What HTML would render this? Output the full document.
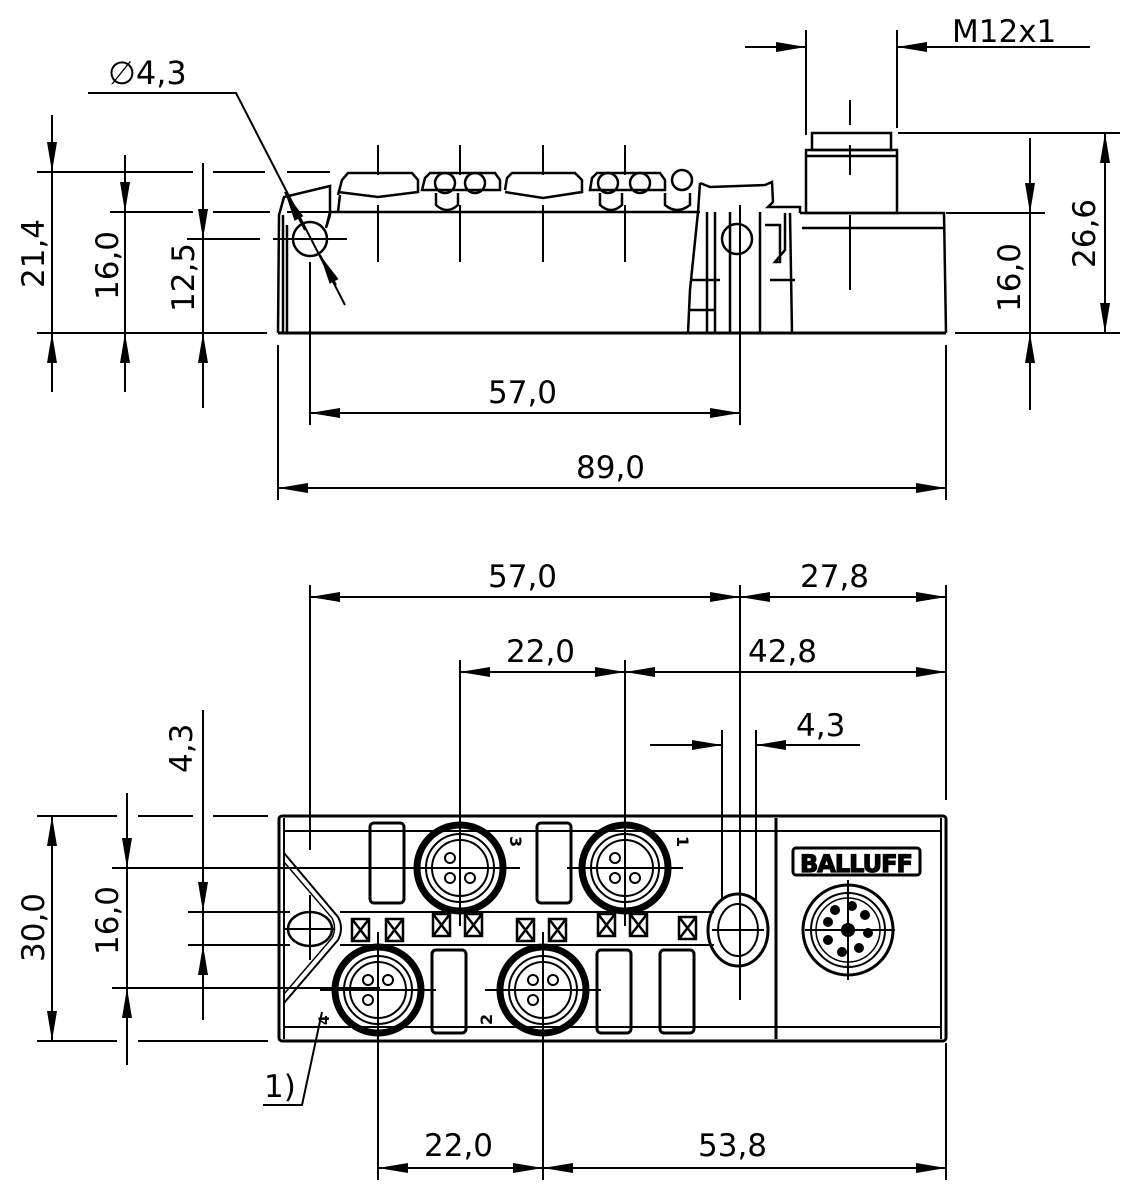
<!DOCTYPE html>
<html><head><meta charset="utf-8"><style>
html,body{margin:0;padding:0;background:#fff;}
svg{display:block;}
text{font-family:"DejaVu Sans","Liberation Sans",sans-serif;font-size:31px;fill:#000;}
</style></head><body>
<svg width="1136" height="1200" viewBox="0 0 1136 1200" xmlns="http://www.w3.org/2000/svg">
<defs>
<marker id="a" viewBox="0 0 30 10" refX="30" refY="5" markerUnits="userSpaceOnUse" markerWidth="30" markerHeight="10" orient="auto-start-reverse">
<path d="M0,0 L30,5 L0,10 z" fill="#000"/></marker>
</defs>
<g stroke="#000" stroke-width="2" fill="none">
<polyline points="88,93 236,93 345,305"/>
<line x1="305" y1="230" x2="285" y2="192" marker-end="url(#a)"/>
<line x1="320" y1="255" x2="336" y2="285" marker-start="url(#a)"/>
<path d="M37,172 H193 M213,172 H265 M287,172 H330"/>
<path d="M110,212 H193 M213,212 H270 M287,212 H330"/>
<path d="M187,239 H260 M273,239 H347"/>
<path d="M37,333 H267"/>
<line x1="52" y1="115" x2="52" y2="392"/>
<line x1="52" y1="140" x2="52" y2="172" marker-end="url(#a)"/>
<line x1="52" y1="365" x2="52" y2="333" marker-end="url(#a)"/>
<line x1="125" y1="155" x2="125" y2="392"/>
<line x1="125" y1="180" x2="125" y2="212" marker-end="url(#a)"/>
<line x1="125" y1="365" x2="125" y2="333" marker-end="url(#a)"/>
<line x1="203" y1="163" x2="203" y2="408"/>
<line x1="203" y1="207" x2="203" y2="239" marker-end="url(#a)"/>
<line x1="203" y1="365" x2="203" y2="333" marker-end="url(#a)"/>
<line x1="898" y1="133" x2="1120" y2="133"/>
<line x1="955" y1="333" x2="1120" y2="333"/>
<line x1="946" y1="213" x2="1045" y2="213"/>
<line x1="1105" y1="133" x2="1105" y2="333" marker-start="url(#a)" marker-end="url(#a)"/>
<line x1="1030" y1="138" x2="1030" y2="410"/>
<line x1="1030" y1="181" x2="1030" y2="213" marker-end="url(#a)"/>
<line x1="1030" y1="365" x2="1030" y2="333" marker-end="url(#a)"/>
<line x1="806" y1="30" x2="806" y2="135"/>
<line x1="897" y1="30" x2="897" y2="128"/>
<line x1="745" y1="47" x2="806" y2="47" marker-end="url(#a)"/>
<line x1="1090" y1="47" x2="897" y2="47" marker-end="url(#a)"/>
<line x1="310" y1="262" x2="310" y2="425"/>
<line x1="740" y1="205" x2="740" y2="425"/>
<line x1="310" y1="413" x2="740" y2="413" marker-start="url(#a)" marker-end="url(#a)"/>
<line x1="278" y1="345" x2="278" y2="500"/>
<line x1="946" y1="345" x2="946" y2="500"/>
<line x1="278" y1="488" x2="946" y2="488" marker-start="url(#a)" marker-end="url(#a)"/>
<path d="M378,145 V175 M378,205 V262 M460,145 V175 M460,205 V262 M543,145 V175 M543,205 V262 M625,145 V175 M625,205 V262"/>
<path d="M850,100 V125 M850,145 V175 M850,215 V290"/>
<g stroke-width="2.5">
<path d="M278,333 L279,215 L284,197 L330,186 L330,215 L326,228 L330,212 L700,212"/>
<line x1="278" y1="333" x2="946" y2="333" stroke-width="3"/>
<path d="M338,195 L342,180 L348,173 L412,173 L418,180 L418,192 L378,197 L338,192"/>
<path d="M340,195 L338,212"/>
<path d="M422,190 L425,178 L430,173 L495,173 L500,180 L500,190 Z"/>
<circle cx="445" cy="183" r="10"/><circle cx="475" cy="183" r="10"/>
<path d="M436,193 V205 Q447,215 458,205 V193"/>
<path d="M505,190 L507,178 L512,173 L575,173 L582,180 L582,192 L543,198 L505,192"/>
<path d="M590,190 L592,178 L597,173 L660,173 L665,180 L665,190 Z"/>
<circle cx="608" cy="183" r="10"/><circle cx="640" cy="183" r="10"/>
<path d="M600,193 V205 Q611,215 622,205 V193"/>
<circle cx="682" cy="180" r="10"/>
<path d="M665,193 V205 Q677,215 690,205 V193"/>
<path d="M700,183 L710,187 L765,185 L772,182 L773,202 L768,207 L800,207 L800,213"/>
<path d="M700,183 L698,212 L690,290 L688,333"/>
<path d="M707,212 V333 M715,212 V333 M730,212 V333 M760,212 V333"/>
<path d="M765,225 H780 V262 L775,262 L785,250 V213"/>
<path d="M790,213 L792,333"/>
<path d="M690,280 H720 M690,310 H715 M770,280 H795"/>
<circle cx="737" cy="239" r="15"/>
<circle cx="310" cy="239" r="17"/>
<path d="M283,215 V333 M287,225 L287,333"/>
<path d="M800,213 H944 L946,333"/>
<line x1="802" y1="228" x2="944" y2="228"/>
<rect x="806" y="150" width="91" height="63"/>
<rect x="812" y="133" width="79" height="17"/>
<line x1="806" y1="156" x2="897" y2="156"/>
</g>
<line x1="310" y1="585" x2="310" y2="850"/>
<line x1="740" y1="585" x2="740" y2="1000"/>
<line x1="946" y1="585" x2="946" y2="800"/>
<line x1="310" y1="597" x2="740" y2="597" marker-start="url(#a)" marker-end="url(#a)"/>
<line x1="740" y1="597" x2="946" y2="597" marker-start="url(#a)" marker-end="url(#a)"/>
<line x1="460" y1="660" x2="460" y2="900"/>
<line x1="625" y1="660" x2="625" y2="900"/>
<line x1="946" y1="660" x2="946" y2="680"/>
<line x1="460" y1="672" x2="625" y2="672" marker-start="url(#a)" marker-end="url(#a)"/>
<line x1="625" y1="672" x2="946" y2="672" marker-start="url(#a)" marker-end="url(#a)"/>
<line x1="722" y1="730" x2="722" y2="900"/>
<line x1="756" y1="730" x2="756" y2="900"/>
<line x1="650" y1="745" x2="722" y2="745" marker-end="url(#a)"/>
<line x1="860" y1="745" x2="756" y2="745" marker-end="url(#a)"/>
<path d="M37,816 H117 M138,816 H193 M213,816 H268"/>
<path d="M37,1041 H117 M138,1041 H268"/>
<line x1="52" y1="816" x2="52" y2="1041" marker-start="url(#a)" marker-end="url(#a)"/>
<line x1="112" y1="868" x2="520" y2="868"/>
<line x1="112" y1="988" x2="380" y2="988"/>
<line x1="127" y1="793" x2="127" y2="1065"/>
<line x1="127" y1="836" x2="127" y2="868" marker-end="url(#a)"/>
<line x1="127" y1="1020" x2="127" y2="988" marker-end="url(#a)"/>
<line x1="188" y1="912" x2="290" y2="912"/>
<line x1="188" y1="945" x2="290" y2="945"/>
<line x1="203" y1="710" x2="203" y2="1020"/>
<line x1="203" y1="880" x2="203" y2="912" marker-end="url(#a)"/>
<line x1="203" y1="977" x2="203" y2="945" marker-end="url(#a)"/>
<line x1="378" y1="1000" x2="378" y2="1180"/>
<line x1="543" y1="990" x2="543" y2="1180"/>
<line x1="946" y1="1043" x2="946" y2="1180"/>
<line x1="378" y1="1168" x2="543" y2="1168" marker-start="url(#a)" marker-end="url(#a)"/>
<line x1="543" y1="1168" x2="946" y2="1168" marker-start="url(#a)" marker-end="url(#a)"/>
<polyline points="263,1105 302,1105 322,1012"/>
<g stroke-width="3">
<rect x="279" y="816" width="667" height="225" rx="3"/>
</g>
<line x1="284" y1="831" x2="941" y2="831"/>
<line x1="284" y1="1027" x2="941" y2="1027"/>
<line x1="284" y1="818" x2="284" y2="1039"/>
<line x1="776" y1="818" x2="776" y2="1039" stroke-width="3"/>
<line x1="941" y1="818" x2="941" y2="1039"/>
<path d="M284,853 L338,917 Q344,928 338,940 L284,1003" stroke-width="2"/>
<path d="M284,862 L332,918 Q337,928 332,938 L284,994" stroke-width="1.5"/>
<path d="M340,912 H714 M340,945 H714" stroke-width="2"/>
<ellipse cx="310" cy="929" rx="22" ry="17" stroke-width="2.5"/>
<path d="M285,929 H335 M310,895 V960" />
<ellipse cx="738" cy="930" rx="30" ry="36" stroke-width="3"/>
<ellipse cx="738" cy="930" rx="20" ry="26" stroke-width="2"/>
<path d="M712,930 H764"/>
<g stroke-width="3">
<rect x="370" y="823" width="34" height="80" rx="4"/>
<rect x="537" y="823" width="34" height="80" rx="4"/>
<rect x="432" y="950" width="34" height="83" rx="4"/>
<rect x="597" y="950" width="34" height="83" rx="4"/>
<rect x="660" y="950" width="34" height="83" rx="4"/>
</g>
<g>
<g transform="translate(460,868)">
<circle r="43" stroke-width="7"/><circle r="34" stroke-width="2"/><circle r="28" stroke-width="2"/>
<circle cx="-10" cy="-10" r="5"/><circle cx="-10" cy="10" r="5"/><circle cx="10" cy="10" r="5"/><path d="M-58,0 H58 M0,-58 V58"/>
</g>
<g transform="translate(625,868)">
<circle r="43" stroke-width="7"/><circle r="34" stroke-width="2"/><circle r="28" stroke-width="2"/>
<circle cx="-10" cy="-10" r="5"/><circle cx="-10" cy="10" r="5"/><circle cx="10" cy="10" r="5"/><path d="M-58,0 H58 M0,-58 V58"/>
</g>
<g transform="translate(378,990)">
<circle r="43" stroke-width="7"/><circle r="34" stroke-width="2"/><circle r="28" stroke-width="2"/>
<circle cx="-10" cy="-10" r="5"/><circle cx="10" cy="-10" r="5"/><circle cx="-10" cy="10" r="5"/><path d="M-58,0 H58 M0,-58 V58"/>
</g>
<g transform="translate(543,990)">
<circle r="43" stroke-width="7"/><circle r="34" stroke-width="2"/><circle r="28" stroke-width="2"/>
<circle cx="-10" cy="-10" r="5"/><circle cx="10" cy="-10" r="5"/><circle cx="-10" cy="10" r="5"/><path d="M-58,0 H58 M0,-58 V58"/>
</g>
</g>
<g stroke-width="2.5">
<path d="M352,919 h17 v22 h-17 z l17,22 m0,-22 l-17,22"/>
<path d="M386,919 h17 v22 h-17 z l17,22 m0,-22 l-17,22"/>
<path d="M433,914 h17 v22 h-17 z l17,22 m0,-22 l-17,22"/>
<path d="M465,914 h17 v22 h-17 z l17,22 m0,-22 l-17,22"/>
<path d="M517,919 h17 v22 h-17 z l17,22 m0,-22 l-17,22"/>
<path d="M549,919 h17 v22 h-17 z l17,22 m0,-22 l-17,22"/>
<path d="M598,914 h17 v22 h-17 z l17,22 m0,-22 l-17,22"/>
<path d="M630,914 h17 v22 h-17 z l17,22 m0,-22 l-17,22"/>
<path d="M679,917 h17 v22 h-17 z l17,22 m0,-22 l-17,22"/>
</g>
<rect x="793" y="848" width="127" height="27" rx="3" stroke-width="3"/>
<circle cx="848" cy="930" r="45" stroke-width="3"/>
<circle cx="848" cy="930" r="37" stroke-width="2"/>
<circle cx="848" cy="930" r="32" stroke-width="1.5"/>
<path d="M805,930 H895 M848,880 V980" stroke-width="2"/>
</g>
<g fill="#000">
<circle cx="848" cy="930" r="7"/>
<circle cx="835" cy="910" r="5"/><circle cx="852" cy="906" r="5"/><circle cx="865" cy="915" r="5"/>
<circle cx="868" cy="933" r="5"/><circle cx="859" cy="948" r="5"/><circle cx="842" cy="952" r="5"/>
<circle cx="828" cy="940" r="5"/><circle cx="828" cy="922" r="5"/>
</g>
<text x="800" y="872" style="font-size:24px;font-weight:bold;letter-spacing:-1px" fill="#fff" stroke="#000" stroke-width="1.2">BALLUFF</text>
<text x="503" y="843" style="font-size:16px;font-weight:bold" transform="rotate(90 510 843)">3</text>
<text x="670" y="843" style="font-size:16px;font-weight:bold" transform="rotate(90 677 843)">1</text>
<text x="485" y="1018" style="font-size:16px;font-weight:bold" transform="rotate(-90 492 1018)">2</text>
<text x="318" y="1022" style="font-size:14px;font-weight:bold" transform="rotate(-90 325 1018)">4</text>
<text x="108" y="84" style="font-size:32px">∅4,3</text>
<text x="952" y="42">M12x1</text>
<text x="488" y="403">57,0</text>
<text x="576" y="478">89,0</text>
<text x="488" y="587">57,0</text>
<text x="800" y="587">27,8</text>
<text x="506" y="662">22,0</text>
<text x="748" y="662">42,8</text>
<text x="796" y="736">4,3</text>
<text x="424" y="1156">22,0</text>
<text x="698" y="1156">53,8</text>
<text x="264" y="1097">1)</text>
<text transform="translate(44,288) rotate(-90)">21,4</text>
<text transform="translate(118,300) rotate(-90)">16,0</text>
<text transform="translate(194,312) rotate(-90)">12,5</text>
<text transform="translate(1095,268) rotate(-90)">26,6</text>
<text transform="translate(1020,312) rotate(-90)">16,0</text>
<text transform="translate(44,962) rotate(-90)">30,0</text>
<text transform="translate(118,955) rotate(-90)">16,0</text>
<text transform="translate(192,773) rotate(-90)">4,3</text>
</svg>
</body></html>
